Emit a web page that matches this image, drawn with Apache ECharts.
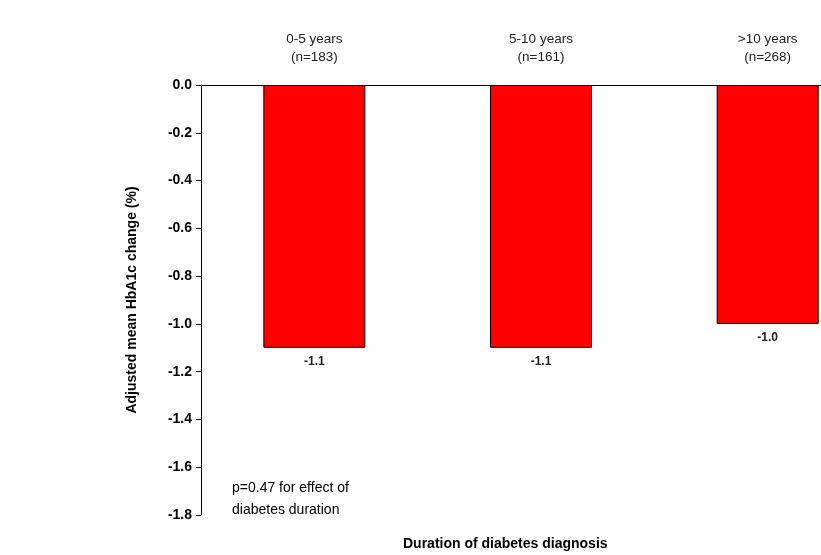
<!DOCTYPE html>
<html><head><meta charset="utf-8">
<script src="https://cdn.jsdelivr.net/npm/echarts@6/dist/echarts.min.js"></script>
<style>html,body{margin:0;padding:0;background:#fff}#c{width:821px;height:555px}</style>
</head><body><div id="c"></div>
<script>
const categories = ['0-5 years\n(n=183)', '5-10 years\n(n=161)', '>10 years\n(n=268)'];
const values = [-1.1, -1.1, -1.0];
const yTicks = { min: -1.8, max: 0, interval: 0.2 };
const yTitle = 'Adjusted mean HbA1c change (%)';
const xTitle = 'Duration of diabetes diagnosis';
const note = 'p=0.47 for effect of\ndiabetes duration';

const chart = echarts.init(document.getElementById('c'));
const F = 'Liberation Sans, Arial, sans-serif';
chart.setOption({
  animation: false,
  grid: { left: 201, top: 85, bottom: 40, width: 680, containLabel: false, outerBoundsMode: 'none' },
  xAxis: {
    type: 'category', data: categories, position: 'top',
    axisLine: { lineStyle: { color: '#000', width: 1 } },
    axisTick: { show: false },
    axisLabel: { color: '#222', fontFamily: F, fontSize: 13.5, lineHeight: 18, margin: 19 }
  },
  yAxis: {
    type: 'value', min: yTicks.min, max: yTicks.max, interval: yTicks.interval,
    name: yTitle, nameLocation: 'middle', nameGap: 62,
    nameTextStyle: { color: '#000', fontFamily: F, fontSize: 14, fontWeight: 'bold' },
    axisLine: { show: true, lineStyle: { color: '#000', width: 1 } },
    axisTick: { show: true, length: 5, lineStyle: { color: '#000' } },
    splitLine: { show: false },
    axisLabel: { color: '#000', fontFamily: F, fontSize: 14, fontWeight: 'bold', margin: 9,
      formatter: v => v.toFixed(1) }
  },
  series: [{
    type: 'bar', data: values, barWidth: '45%',
    itemStyle: { color: '#ff0000', borderColor: '#000', borderWidth: 1 },
    label: { show: true, position: 'bottom', distance: 8, color: '#222', fontFamily: F,
      fontSize: 12, fontWeight: 'bold', formatter: p => p.value.toFixed(1) }
  }],
  graphic: [
    { type: 'text', left: 403, top: 537, style: { text: xTitle, fill: '#000', font: 'bold 14px ' + F } },
    { type: 'text', left: 232, top: 477, style: { text: note, fill: '#000', font: '14px ' + F, lineHeight: 22 } }
  ]
});
</script></body></html>
